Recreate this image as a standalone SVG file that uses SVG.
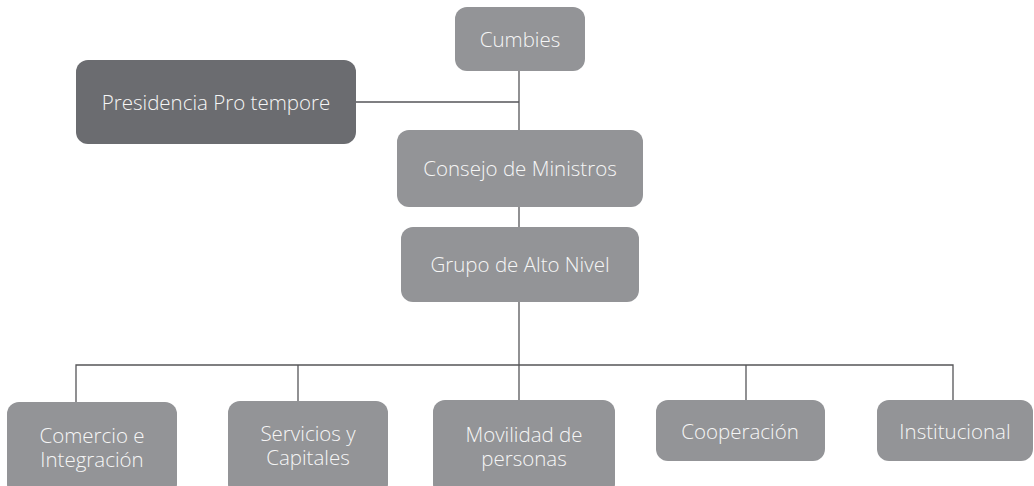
<svg xmlns="http://www.w3.org/2000/svg" width="1034" height="486" viewBox="0 0 1034 486">
<style>
.n{fill:#939497}
.d{fill:#6b6c70}
.t{font-family:"Open Sans","Liberation Sans",sans-serif;font-size:20.5px;font-weight:300;fill:#f6f6f6;text-anchor:middle}
.c{stroke:#555558;stroke-width:1.3;fill:none}
</style>
<rect width="1034" height="486" fill="#ffffff"/>
<g id="connectors" class="c">
<line x1="519" y1="71" x2="519" y2="130"/>
<line x1="356" y1="102" x2="519" y2="102"/>
<line x1="519" y1="207" x2="519" y2="227"/>
<line x1="519" y1="302" x2="519" y2="400"/>
<polyline points="76,402 76,365 953,365 953,400"/>
<line x1="298" y1="365" x2="298" y2="401"/>
<line x1="746" y1="365" x2="746" y2="400"/>
</g>
<g id="cumbies"><rect class="n" x="455" y="7" width="130" height="64" rx="12"/><text class="t" x="520" y="47">Cumbies</text></g>
<g id="presidencia"><rect class="d" x="76" y="60" width="280" height="84" rx="12"/><text class="t" x="216" y="110">Presidencia Pro tempore</text></g>
<g id="consejo"><rect class="n" x="397" y="130" width="246" height="77" rx="12"/><text class="t" x="520" y="176">Consejo de Ministros</text></g>
<g id="grupo"><rect class="n" x="401" y="227" width="238" height="75" rx="12"/><text class="t" x="520" y="272">Grupo de Alto Nivel</text></g>
<g id="comercio"><rect class="n" x="7" y="402" width="170" height="94" rx="12"/><text class="t" x="92" y="443">Comercio e</text><text class="t" x="92" y="467">Integración</text></g>
<g id="servicios"><rect class="n" x="228" y="401" width="160" height="95" rx="12"/><text class="t" x="308" y="441">Servicios y</text><text class="t" x="308" y="465">Capitales</text></g>
<g id="movilidad"><rect class="n" x="433" y="400" width="182" height="96" rx="12"/><text class="t" x="524" y="442">Movilidad de</text><text class="t" x="524" y="466">personas</text></g>
<g id="cooperacion"><rect class="n" x="656" y="400" width="169" height="61" rx="12"/><text class="t" x="740" y="439">Cooperación</text></g>
<g id="institucional"><rect class="n" x="877" y="400" width="156" height="61" rx="12"/><text class="t" x="955" y="439">Institucional</text></g>
</svg>
